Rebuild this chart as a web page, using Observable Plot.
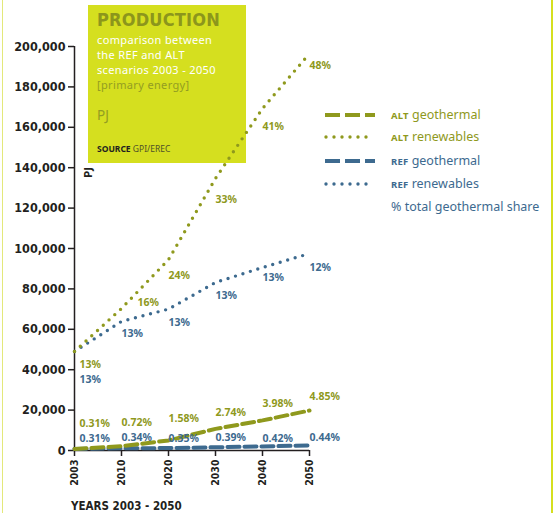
<!DOCTYPE html>
<html>
<head>
<meta charset="utf-8">
<script src="https://cdn.jsdelivr.net/npm/d3@7"></script>
<script src="https://cdn.jsdelivr.net/npm/@observablehq/plot@0.6"></script>
<style>
  body { margin: 0; background: #fff; }
  #wrap { position: relative; width: 555px; height: 513px; overflow: hidden; font-family: "Noto Sans", sans-serif; background: #fff; }
  #box { position: absolute; left: 88px; top: 5px; width: 158px; height: 158px; background: #d5df1f; z-index: 0; }
  #box .t { position: absolute; left: 9px; white-space: nowrap; }
  #box .s { font-size: 11px; line-height: 15px; letter-spacing: 0.35px; }
  #chart { position: absolute; left: 0; top: 0; z-index: 1; }
  #legend { position: absolute; left: 0; top: 0; z-index: 2; }
  .lg { position: absolute; white-space: nowrap; font-size: 12.5px; line-height: 14px; }
  .sc { font-size: 9.5px; font-weight: bold; letter-spacing: 0.2px; }
  .bl { position: absolute; top: 0; height: 513px; background: #d5df1f; }
  #xlabel { position: absolute; left: 71px; top: 499px; font: bold 11.5px "DejaVu Sans Condensed", sans-serif; color: #231f20; z-index: 2; }
  #ylabel { position: absolute; left: 83px; top: 166px; font: bold 11px "DejaVu Sans Condensed", sans-serif; color: #231f20; transform: rotate(-90deg); transform-origin: center; z-index: 2; }
</style>
</head>
<body>
<div id="wrap">
  <div class="bl" style="left:2px;width:1px;background:#e3e87a;"></div>
  <div class="bl" style="left:551px;width:2px;"></div>
  <div id="box">
    <div class="t" style="top:5px;font:bold 18px/20px 'DejaVu Sans Condensed',sans-serif;color:#8c961c;letter-spacing:0.2px;">PRODUCTION</div>
    <div class="t s" style="top:27px;color:#ffffff;">comparison between</div>
    <div class="t s" style="top:42px;color:#ffffff;">the REF and ALT</div>
    <div class="t s" style="top:57px;color:#ffffff;">scenarios 2003 - 2050</div>
    <div class="t s" style="top:72px;color:#939d22;">[primary energy]</div>
    <div class="t" style="top:102px;font-size:13.5px;line-height:16px;color:#939d22;">PJ</div>
    <div class="t" style="top:139px;font-size:8.5px;line-height:10px;color:#4f5128;"><b style="color:#231f20;">SOURCE</b> GPI/EREC</div>
  </div>
  <div id="chart"></div>
  <div id="legend"></div>
  <div id="xlabel">YEARS 2003 - 2050</div>
  <div id="ylabel">PJ</div>
</div>
<script>
// ---- data ----
const years = ["2003", "2010", "2020", "2030", "2040", "2050"];
const altRenewables = [49000, 70300, 94500, 134700, 169300, 196500];
const refRenewables = [49000, 63900, 70000, 83200, 90600, 97500];
const altGeothermal = [800, 2100, 5000, 10700, 14900, 19800];
const refGeothermal = [800, 1100, 1200, 1600, 2000, 2500];
const altRenewShare = ["13%", "16%", "24%", "33%", "41%", "48%"];
const refRenewShare = ["13%", "13%", "13%", "13%", "13%", "12%"];
const altGeoShare = ["0.31%", "0.72%", "1.58%", "2.74%", "3.98%", "4.85%"];
const refGeoShare = ["0.31%", "0.34%", "0.35%", "0.39%", "0.42%", "0.44%"];
// label anchor heights (PJ)
const altRenewLabelAt = [42600, 73300, 86600, 124300, 160400, 190600];
const refRenewLabelAt = [35100, 57900, 63400, 76700, 85600, 90600];
const altGeoLabelAt = [13400, 13900, 16000, 18800, 23300, 26700];
const refGeoLabelAt = [6100, 6400, 6100, 6400, 6100, 6400];
const yTicks = [0, 20000, 40000, 60000, 80000, 100000, 120000, 140000, 160000, 180000, 200000];
const seriesNames = ["ALT geothermal", "ALT renewables", "REF geothermal", "REF renewables"];

const ALT = "#8f991d";
const REF = "#3d6a8f";
const INK = "#231f20";

const rows = (vals) => years.map((y, i) => ({year: y, value: vals[i]}));
const labels = (txt, at) => years.map((y, i) => ({year: y, text: txt[i], at: at[i]}));

const dotted = {strokeDasharray: "0,7.8", strokeLinecap: "round", strokeWidth: 3.4};
const dashed = {strokeDasharray: "12,5", strokeWidth: 4};
const lbl = {fontFamily: "Noto Sans", fontSize: 10.5, fontWeight: "bold", textAnchor: "start"};

function labelMarks(data, color) {
  return [
    Plot.text(data.filter(d => d.year === "2003"), {x: "year", y: "at", text: "text", fill: color, dx: 5, ...lbl}),
    Plot.text(data.filter(d => d.year !== "2003"), {x: "year", y: "at", text: "text", fill: color, dx: 0, ...lbl})
  ];
}

const altRenewLabels = labels(altRenewShare, altRenewLabelAt);

const chart = Plot.plot({
  width: 555,
  height: 513,
  marginLeft: 74,
  marginRight: 246,
  marginTop: 46,
  marginBottom: 63,
  style: {background: "transparent", color: INK},
  x: {type: "point", domain: years, padding: 0, axis: null},
  y: {domain: [0, 200000], axis: null},
  marks: [
    Plot.axisY({ticks: yTicks, tickFormat: d3.format(","), tickSize: 6, tickPadding: 3,
      fontSize: 12.5, fontWeight: "bold", fontFamily: "DejaVu Sans Condensed", color: INK, strokeWidth: 1.5, label: null}),
    Plot.axisX({tickSize: 6, tickPadding: 3, tickRotate: -90, fontSize: 10.5, fontWeight: "bold",
      fontFamily: "DejaVu Sans Condensed", color: INK, strokeWidth: 1.5, label: null}),
    Plot.ruleX([years[0]], {y1: 0, y2: 200000, stroke: INK, strokeWidth: 1.5}),
    Plot.ruleY([0], {stroke: INK, strokeWidth: 1.5}),
    Plot.line(rows(refGeothermal), {x: "year", y: "value", stroke: REF, ...dashed}),
    Plot.line(rows(altGeothermal), {x: "year", y: "value", stroke: ALT, ...dashed}),
    Plot.line(rows(refRenewables), {x: "year", y: "value", stroke: REF, ...dotted}),
    Plot.line(rows(altRenewables), {x: "year", y: "value", stroke: ALT, ...dotted}),
    ...labelMarks(labels(refGeoShare, refGeoLabelAt), REF),
    ...labelMarks(labels(altGeoShare, altGeoLabelAt), ALT),
    ...labelMarks(labels(refRenewShare, refRenewLabelAt), REF),
    Plot.text(altRenewLabels.filter(d => d.year === "2003"), {x: "year", y: "at", text: "text", fill: ALT, dx: 5, ...lbl}),
    Plot.text(altRenewLabels.filter(d => d.year === "2010"), {x: "year", y: "at", text: "text", fill: ALT, dx: 16, ...lbl}),
    Plot.text(altRenewLabels.filter(d => d.year !== "2003" && d.year !== "2010"), {x: "year", y: "at", text: "text", fill: ALT, ...lbl})
  ]
});
document.getElementById("chart").appendChild(chart);

// ---- legend ----
const legend = document.getElementById("legend");
const legendRows = [
  {name: seriesNames[0], color: ALT, kind: "dash", top: 108},
  {name: seriesNames[1], color: ALT, kind: "dot", top: 130},
  {name: seriesNames[2], color: REF, kind: "dash", top: 154},
  {name: seriesNames[3], color: REF, kind: "dot", top: 177}
];
legendRows.forEach(r => {
  const sw = document.createElementNS("http://www.w3.org/2000/svg", "svg");
  sw.setAttribute("width", 52); sw.setAttribute("height", 10);
  sw.style.position = "absolute"; sw.style.left = "323px"; sw.style.top = (r.top + 2) + "px";
  const ln = document.createElementNS("http://www.w3.org/2000/svg", "line");
  ln.setAttribute("y1", 5); ln.setAttribute("y2", 5);
  ln.setAttribute("stroke", r.color);
  if (r.kind === "dash") {
    ln.setAttribute("x1", 2); ln.setAttribute("x2", 52);
    ln.setAttribute("stroke-width", 4); ln.setAttribute("stroke-dasharray", "15,5");
  } else {
    ln.setAttribute("x1", 3); ln.setAttribute("x2", 51);
    ln.setAttribute("stroke-width", 3.4); ln.setAttribute("stroke-dasharray", "0,8");
    ln.setAttribute("stroke-linecap", "round");
  }
  sw.appendChild(ln);
  legend.appendChild(sw);
  const [pre, ...rest] = r.name.split(" ");
  const t = document.createElement("div");
  t.className = "lg";
  t.style.left = "391px"; t.style.top = r.top + "px"; t.style.color = r.color;
  t.innerHTML = `<span class="sc">${pre}</span> ${rest.join(" ")}`;
  legend.appendChild(t);
});
const share = document.createElement("div");
share.className = "lg";
share.style.left = "391px"; share.style.top = "200px"; share.style.color = REF;
share.textContent = "% total geothermal share";
legend.appendChild(share);
</script>
</body>
</html>
